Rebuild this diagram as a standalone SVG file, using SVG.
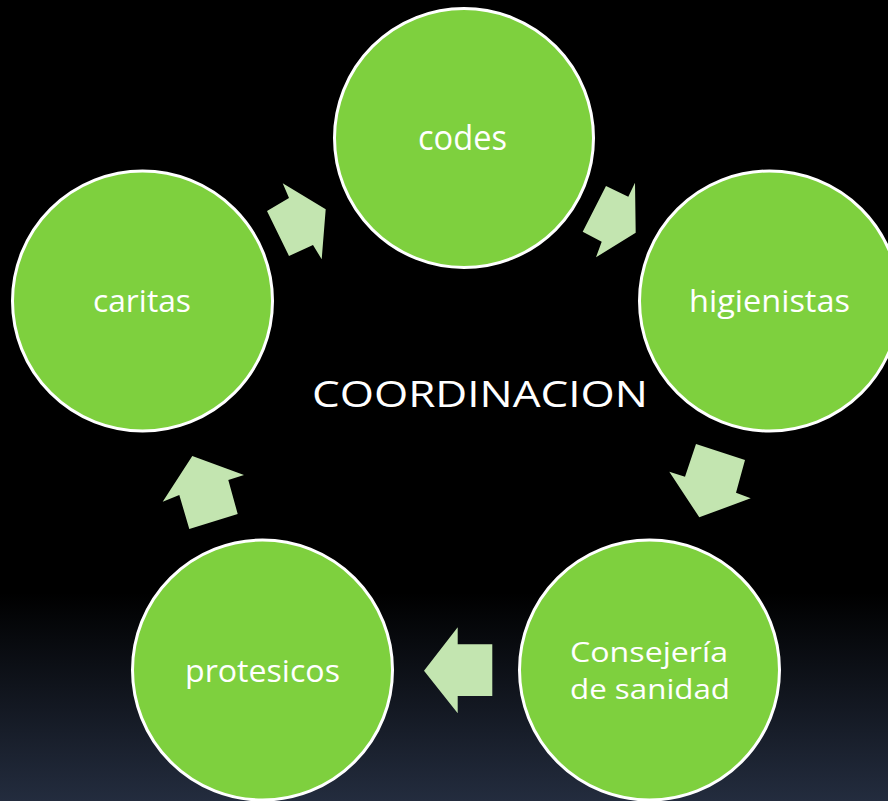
<svg xmlns="http://www.w3.org/2000/svg" width="888" height="801" viewBox="0 0 888 801">
  <defs>
    <linearGradient id="bg" x1="0" y1="0" x2="0" y2="1">
      <stop offset="0" stop-color="#000000"/>
      <stop offset="0.74" stop-color="#000000"/>
      <stop offset="1" stop-color="#232c3e"/>
    </linearGradient>
    <style>
      .node { fill: #7ed03e; stroke: #ffffff; stroke-width: 3; }
      .label { fill: #ffffff; font-family: "Open Sans", "Noto Sans", "Liberation Sans", sans-serif; text-anchor: middle; }
      .arrow { fill: #c3e5b0; stroke: none; }
    </style>
  </defs>
  <rect x="0" y="0" width="888" height="801" fill="url(#bg)"/>

  <g id="connectors">
    <polygon class="arrow" points="282.7,183.3 289,198 267,211 289,256 313,245 321.7,259.3 325.7,209.3"/>
    <polygon class="arrow" points="606,186 628.3,196.7 635,182.7 635.7,232.7 596,257.3 601.7,241.7 582.7,231.7"/>
    <polygon class="arrow" points="696,444 745,460 736,492.7 750.7,498.3 699.3,517.3 669.3,471.7 685,476.7"/>
    <polygon class="arrow" points="424,670.7 457.7,627.3 457.7,644.3 492.3,644.3 492.3,696 457.7,696 457.7,713.3"/>
    <polygon class="arrow" points="192.3,456 244,475 228.3,480 237.7,514 189.3,529 179.3,495 162.7,501.7"/>
  </g>

  <g id="node-codes">
    <circle class="node" cx="464" cy="138" r="129.5"/>
    <text class="label" x="462.5" y="150" font-size="35" textLength="89" lengthAdjust="spacingAndGlyphs">codes</text>
  </g>
  <g id="node-higienistas">
    <circle class="node" cx="769.5" cy="301" r="130"/>
    <text class="label" x="769.5" y="311.5" font-size="31" textLength="161" lengthAdjust="spacingAndGlyphs">higienistas</text>
  </g>
  <g id="node-consejeria">
    <circle class="node" cx="649.5" cy="670" r="130"/>
    <text class="label" x="649" y="661.5" font-size="27.5" textLength="158" lengthAdjust="spacingAndGlyphs">Consejería</text>
    <text class="label" x="650" y="699" font-size="27.5" textLength="160" lengthAdjust="spacingAndGlyphs">de sanidad</text>
  </g>
  <g id="node-protesicos">
    <circle class="node" cx="262.5" cy="670" r="130"/>
    <text class="label" x="262.5" y="681.5" font-size="31" textLength="155" lengthAdjust="spacingAndGlyphs">protesicos</text>
  </g>
  <g id="node-caritas">
    <circle class="node" cx="142.5" cy="301" r="130"/>
    <text class="label" x="142" y="311.5" font-size="31" textLength="98" lengthAdjust="spacingAndGlyphs">caritas</text>
  </g>

  <g id="center-label">
    <text class="label" x="480" y="406.5" font-size="37" textLength="336" lengthAdjust="spacingAndGlyphs">COORDINACION</text>
  </g>
</svg>
